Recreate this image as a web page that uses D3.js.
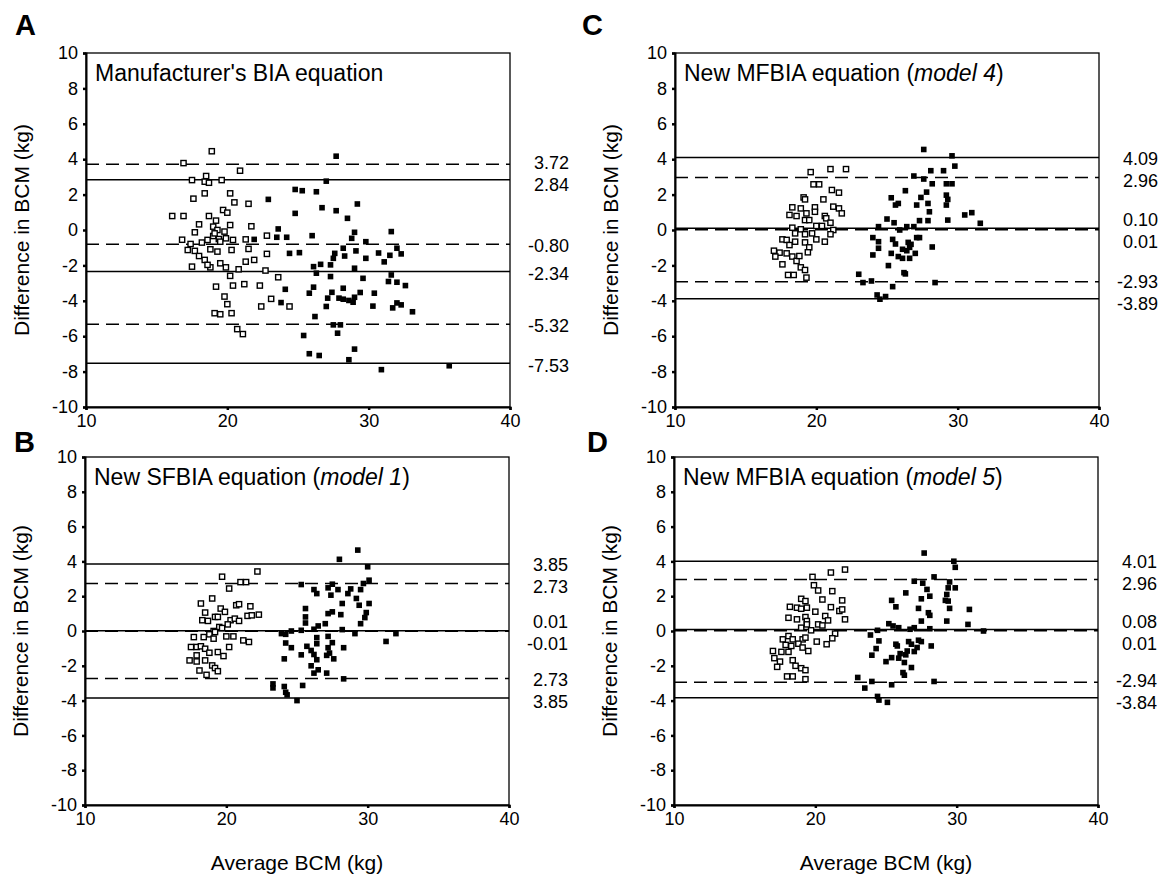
<!DOCTYPE html>
<html>
<head>
<meta charset="UTF-8">
<title>Difference in BCM vs average BCM</title>
<style>
  body { margin: 0; background: #fff; }
  svg text { font-family: "Liberation Sans", Arial, Helvetica, sans-serif; fill: #000; }
</style>
</head>
<body>
<script src="https://cdn.jsdelivr.net/npm/d3@7"></script>
<script>
// ---- data (average BCM kg, difference kg) ----
// open squares = one sex, filled squares = the other

// Panel A: Manufacturer's BIA equation
const openA = [[18.9,4.45],[16.9,3.78],[20.9,3.35],[17.5,2.82],[18.5,3.05],[18.4,2.73],[18.7,2.67],[19.6,2.82],
  [18.4,2.07],[20.2,2.07],[17.6,1.77],[20.5,1.56],[21.5,1.48],[19.7,1.13],[20.0,0.98],[16.1,0.79],[16.9,0.79],
  [18.7,0.79],[19.2,0.53],[20.2,0.28],[21.7,0.21],[18.0,0.32],[19.0,0.19],[17.7,-0.13],[19.3,0.0],[19.8,-0.09],
  [16.8,-0.55],[17.4,-0.79],[18.2,-0.71],[18.6,-0.56],[19.0,-0.34],[19.4,-0.51],[19.9,-0.47],[20.4,-0.56],
  [21.3,-0.53],[17.2,-1.13],[17.7,-1.18],[18.0,-1.47],[18.4,-1.69],[18.8,-1.09],[19.3,-1.22],[20.3,-1.13],
  [21.5,-1.07],[22.8,-0.32],[22.8,-1.35],[21.9,-1.69],[21.3,-1.79],[17.5,-2.07],[18.8,-2.11],[19.5,-1.88],
  [19.9,-2.11],[20.8,-2.22],[20.2,-2.59],[23.6,-2.67],[19.2,-3.20],[20.4,-3.14],[21.2,-3.06],[22.3,-3.14],
  [19.8,-3.76],[20.0,-4.19],[23.1,-3.89],[22.4,-4.32],[24.4,-4.32],[19.1,-4.70],[19.5,-4.76],[20.3,-4.70],
  [20.7,-5.60],[21.1,-5.88],[22.7,-2.29],[18.6,-1.97],[19.1,-0.19],[19.5,-0.66]];
const filledA = [[27.7,4.17],[27.0,2.76],[24.8,2.29],[25.3,2.22],[26.3,2.16],[22.9,1.73],[29.2,1.47],[24.8,0.94],
  [26.7,1.26],[27.7,1.09],[28.5,0.66],[23.6,0.06],[31.6,-0.09],[29.0,-0.13],[28.8,-0.47],[26.0,-0.32],
  [23.5,-0.41],[24.2,-0.41],[21.9,-0.53],[29.8,-0.66],[24.4,-1.32],[25.1,-1.28],[28.2,-1.03],[27.6,-1.32],
  [27.5,-1.60],[28.3,-1.47],[29.1,-1.18],[29.8,-1.60],[30.7,-1.30],[31.5,-1.43],[32.0,-1.03],[32.3,-1.35],
  [31.1,-1.80],[26.1,-2.07],[26.6,-1.94],[26.3,-2.44],[27.3,-1.97],[27.3,-2.63],[29.0,-2.16],[29.6,-2.73],
  [31.6,-2.54],[31.4,-2.91],[32.0,-2.95],[32.6,-3.14],[24.1,-3.35],[26.1,-3.23],[25.8,-3.57],[27.4,-3.52],
  [28.2,-3.29],[27.1,-3.85],[27.9,-3.85],[28.2,-3.91],[28.6,-3.98],[28.9,-4.08],[29.0,-3.80],[29.4,-3.53],
  [30.4,-3.57],[23.8,-4.10],[27.0,-4.32],[30.3,-4.30],[31.7,-4.40],[32.0,-4.12],[32.3,-4.23],[33.1,-4.62],
  [26.2,-4.89],[27.5,-5.36],[28.0,-5.36],[27.8,-5.83],[25.4,-5.96],[29.0,-6.73],[25.8,-6.99],[26.5,-7.09],
  [28.6,-7.33],[30.9,-7.89],[35.7,-7.67]];
const solidA = [2.84, -2.34, -7.53];
const dashedA = [3.72, -0.80, -5.32];
const labelsA = ["3.72", "2.84", "-0.80", "-2.34", "-5.32", "-7.53"];

// Panel B: New SFBIA equation (model 1)
const openB = [[22.2,3.42],[19.7,3.12],[21.0,2.81],[21.4,2.81],[20.2,2.44],[19.0,1.87],[18.2,1.58],[19.6,1.29],
  [19.9,1.10],[20.7,1.48],[20.9,1.54],[21.7,1.42],[18.5,1.06],[19.2,0.81],[19.4,0.81],[21.5,0.87],[21.8,0.90],
  [22.3,0.94],[18.3,0.62],[18.7,0.58],[20.3,0.62],[20.6,0.71],[20.9,0.58],[20.1,0.38],[19.5,0.23],[19.7,0.17],
  [19.1,0.0],[19.2,-0.06],[18.8,-0.19],[19.1,-0.44],[18.4,-0.35],[17.7,-0.35],[20.0,-0.31],[20.5,-0.31],
  [21.2,-0.54],[21.6,-0.63],[20.2,-0.92],[17.5,-0.92],[17.9,-0.92],[18.2,-0.88],[18.5,-1.02],[18.8,-1.25],
  [19.4,-1.21],[19.8,-1.44],[17.9,-1.40],[17.4,-1.69],[17.9,-1.75],[18.5,-1.69],[19.0,-1.98],[19.2,-2.13],
  [19.4,-2.31],[18.1,-2.27],[18.6,-2.52]];
const filledB = [[29.3,4.65],[28.0,4.12],[30.0,3.69],[30.1,2.92],[29.7,2.73],[25.3,2.67],[26.2,2.38],[26.4,2.15],
  [27.2,2.48],[27.5,2.69],[27.4,2.06],[27.9,2.38],[28.6,2.15],[28.8,2.42],[29.5,2.38],[29.2,1.87],[29.4,1.48],
  [30.1,1.58],[28.2,1.58],[25.6,1.29],[27.2,1.00],[27.5,1.10],[28.1,0.94],[29.9,1.06],[29.8,0.77],[29.5,0.42],
  [25.6,0.81],[25.6,0.46],[27.0,0.42],[26.5,0.29],[26.2,0.10],[28.2,0.08],[29.1,-0.15],[24.6,0.0],[23.9,-0.15],
  [24.2,-0.19],[25.3,0.04],[32.0,-0.15],[31.3,-0.60],[27.2,-0.31],[26.4,-0.38],[24.2,-0.69],[24.6,-0.96],
  [26.4,-0.73],[25.7,-0.88],[26.0,-1.12],[25.3,-1.37],[27.5,-0.67],[27.2,-0.96],[28.3,-0.96],[24.1,-1.60],
  [26.2,-1.35],[26.4,-1.65],[27.1,-1.40],[27.3,-1.27],[27.6,-1.60],[26.0,-2.00],[26.5,-2.23],[26.2,-2.42],
  [27.1,-2.42],[28.3,-2.75],[23.3,-3.04],[23.3,-3.27],[24.1,-3.19],[24.2,-3.52],[24.3,-3.67],[25.4,-3.13],
  [25.0,-4.00]];
const solidB = [3.85, 0.01, -3.85];
const dashedB = [2.73, -0.01, -2.73];
const labelsB = ["3.85", "2.73", "0.01", "-0.01", "2.73", "3.85"];

// Panel C: New MFBIA equation (model 4)
const openC = [[19.6,3.27],[21.0,3.44],[22.1,3.44],[19.8,2.58],[20.2,2.58],[21.1,2.26],[21.6,2.11],[20.5,1.73],
  [19.1,1.84],[19.2,1.73],[18.3,1.28],[18.9,1.22],[19.9,1.28],[19.9,1.03],[21.2,1.32],[21.6,1.22],[21.8,0.94],
  [20.6,0.79],[18.1,0.85],[18.6,0.79],[19.3,0.94],[19.2,0.56],[19.5,0.56],[20.7,0.66],[21.0,0.41],[20.0,0.23],
  [20.4,0.23],[18.3,0.13],[18.9,0.04],[21.2,0.0],[21.0,-0.24],[17.6,-0.53],[18.5,-0.19],[19.2,-0.24],
  [19.7,-0.19],[20.0,-0.53],[20.6,-0.66],[17.9,-0.56],[18.1,-0.85],[18.5,-0.66],[19.2,-0.70],[19.5,-0.98],
  [17.0,-1.17],[17.4,-1.28],[17.9,-1.32],[18.3,-1.50],[17.1,-1.50],[17.6,-1.94],[19.4,-1.26],[18.6,-1.75],
  [18.9,-2.11],[19.2,-2.26],[18.0,-2.54],[18.4,-2.54],[19.3,-2.69],[18.8,-1.47]];
const filledC = [[27.6,4.55],[29.6,4.19],[29.8,3.61],[28.1,3.35],[29.0,3.35],[26.9,3.05],[27.6,2.88],[28.2,2.61],
  [29.2,2.61],[29.6,2.61],[26.3,2.22],[27.8,2.14],[25.3,1.82],[25.8,1.50],[25.6,1.41],[27.4,1.84],[27.1,1.41],
  [29.2,1.97],[29.3,1.73],[29.2,1.41],[27.9,1.50],[28.0,1.03],[30.5,0.85],[31.0,0.98],[31.6,0.38],[29.3,0.56],
  [25.0,0.62],[25.5,0.41],[27.3,0.53],[27.9,0.53],[24.4,0.19],[25.9,0.0],[26.4,0.19],[26.9,0.19],[27.1,-0.43],
  [27.3,-0.43],[24.0,-0.43],[24.4,-0.66],[25.4,-0.53],[25.6,-0.79],[26.5,-0.70],[26.7,-0.81],[28.2,-0.96],
  [24.4,-1.03],[26.1,-1.09],[26.4,-1.17],[26.6,-0.98],[27.0,-1.32],[24.0,-1.41],[25.3,-1.32],[25.8,-1.50],
  [26.1,-1.60],[26.6,-1.60],[25.1,-2.01],[26.2,-2.41],[26.3,-2.48],[23.0,-2.50],[23.3,-2.97],[23.9,-2.88],
  [28.4,-2.97],[25.4,-3.20],[24.3,-3.67],[24.5,-3.91],[24.9,-3.76]];
const solidC = [4.09, 0.10, -3.89];
const dashedC = [2.96, 0.01, -2.93];
const labelsC = ["4.09", "2.96", "0.10", "0.01", "-2.93", "-3.89"];

// Panel D: New MFBIA equation (model 5)
const openD = [[22.1,3.53],[21.1,3.36],[19.8,3.11],[19.9,2.63],[20.2,2.33],[21.2,2.29],[20.5,1.81],[21.9,1.76],
  [19.0,1.85],[19.3,1.72],[18.2,1.39],[18.7,1.34],[19.0,1.28],[19.4,1.34],[20.0,1.11],[21.1,1.37],[21.7,1.15],
  [21.9,1.24],[18.1,0.76],[18.7,0.67],[19.3,0.80],[19.4,0.57],[20.7,0.86],[20.9,0.61],[22.1,0.67],[20.2,0.38],
  [20.5,0.32],[19.0,0.19],[19.4,0.38],[19.7,0.04],[21.4,-0.15],[21.2,-0.42],[20.8,-0.76],[20.1,-0.61],
  [17.7,-0.48],[18.1,-0.29],[18.4,-0.48],[19.1,-0.48],[19.3,-0.38],[17.9,-0.80],[18.3,-0.86],[18.8,-0.73],
  [19.1,-0.95],[17.0,-1.15],[17.6,-1.20],[18.1,-1.20],[19.5,-1.15],[17.1,-1.56],[17.5,-1.76],[18.4,-1.68],
  [18.6,-2.00],[19.0,-2.14],[19.3,-2.25],[17.3,-2.06],[18.0,-2.61],[18.4,-2.61],[19.3,-2.77]];
const filledD = [[27.7,4.48],[29.8,4.01],[29.9,3.66],[28.4,3.11],[27.0,2.86],[27.6,2.75],[29.5,2.82],[29.4,2.48],
  [29.9,2.48],[26.4,2.19],[27.9,2.39],[28.1,2.00],[27.5,1.85],[29.3,2.10],[29.2,1.76],[29.4,1.72],[25.4,1.76],
  [25.7,1.39],[27.3,1.30],[28.0,1.05],[28.1,0.90],[30.9,1.24],[29.5,1.30],[27.5,0.57],[29.3,0.57],[30.8,0.38],
  [25.2,0.42],[25.5,0.29],[25.9,0.19],[26.7,0.10],[27.0,0.19],[28.1,0.13],[31.9,0.0],[24.4,0.04],[23.9,-0.23],
  [24.5,-0.57],[25.7,-0.76],[25.8,-0.86],[26.6,-0.61],[26.8,-0.76],[27.3,-0.53],[27.5,-0.61],[28.2,-0.86],
  [24.3,-1.01],[27.2,-0.95],[27.0,-1.18],[26.5,-1.15],[26.4,-1.37],[26.0,-1.30],[25.9,-1.56],[24.0,-1.39],
  [25.4,-1.53],[25.0,-1.76],[26.3,-1.81],[26.8,-2.10],[26.2,-2.39],[26.3,-2.54],[23.0,-2.67],[24.0,-2.90],
  [25.4,-3.09],[23.5,-3.28],[28.4,-2.90],[24.4,-3.76],[24.5,-3.97],[25.1,-4.10]];
const solidD = [4.01, 0.08, -3.84];
const dashedD = [2.96, 0.01, -2.94];
const labelsD = ["4.01", "2.96", "0.08", "0.01", "-2.94", "-3.84"];

const xTicks = [10, 20, 30, 40];
const yTicks = [-10, -8, -6, -4, -2, 0, 2, 4, 6, 8, 10];

// ---- layout ----
const W = 1167, H = 888;
const font = '"Liberation Sans", Arial, Helvetica, sans-serif';
const svg = d3.select("body").append("svg").attr("width", W).attr("height", H);

const panels = [
  { letter: "A", title: ["Manufacturer's BIA equation"], left: 86, top: 53, w: 424, h: 354,
    open: openA, filled: filledA, solid: solidA, dashed: dashedA, labels: labelsA, lx: 15, ly: 35, bottom: false },
  { letter: "C", title: ["New MFBIA equation (", "model 4", ")"], left: 675, top: 53, w: 424, h: 354,
    open: openC, filled: filledC, solid: solidC, dashed: dashedC, labels: labelsC, lx: 582, ly: 35, bottom: false },
  { letter: "B", title: ["New SFBIA equation (", "model 1", ")"], left: 85, top: 457, w: 424, h: 348,
    open: openB, filled: filledB, solid: solidB, dashed: dashedB, labels: labelsB, lx: 14, ly: 452, bottom: true },
  { letter: "D", title: ["New MFBIA equation (", "model 5", ")"], left: 674, top: 457, w: 424, h: 348,
    open: openD, filled: filledD, solid: solidD, dashed: dashedD, labels: labelsD, lx: 587, ly: 452, bottom: true }
];

panels.forEach(p => {
  const x = d3.scaleLinear().domain([10, 40]).range([0, p.w]);
  const y = d3.scaleLinear().domain([-10, 10]).range([p.h, 0]);
  const g = svg.append("g").attr("transform", `translate(${p.left},${p.top})`);

  // panel letter
  svg.append("text").attr("x", p.lx).attr("y", p.ly)
    .attr("font-size", 29).attr("font-weight", "bold").text(p.letter);

  // frame
  g.append("rect").attr("width", p.w).attr("height", p.h)
    .attr("fill", "none").attr("stroke", "#000").attr("stroke-width", 1.3);

  // limits of agreement lines
  g.selectAll(".solid").data(p.solid).join("line")
    .attr("x1", 0).attr("x2", p.w).attr("y1", d => y(d)).attr("y2", d => y(d))
    .attr("stroke", "#000").attr("stroke-width", 1.5);
  g.selectAll(".dashed").data(p.dashed).join("line")
    .attr("x1", 0).attr("x2", p.w).attr("y1", d => y(d)).attr("y2", d => y(d))
    .attr("stroke", "#000").attr("stroke-width", 1.5).attr("stroke-dasharray", "13,7");

  // points
  g.selectAll(".open").data(p.open).join("rect")
    .attr("x", d => x(d[0]) - 2.6).attr("y", d => y(d[1]) - 2.6)
    .attr("width", 5.2).attr("height", 5.2)
    .attr("fill", "#fff").attr("stroke", "#000").attr("stroke-width", 1.4);
  g.selectAll(".filled").data(p.filled).join("rect")
    .attr("x", d => x(d[0]) - 2.8).attr("y", d => y(d[1]) - 2.8)
    .attr("width", 5.6).attr("height", 5.6).attr("fill", "#000");

  // axes (plain hyphen minus like the original)
  const ya = g.append("g").call(d3.axisLeft(y).tickValues(yTicks).tickSize(3).tickPadding(5)
    .tickFormat(d => String(d)));
  const xa = g.append("g").attr("transform", `translate(0,${p.h})`)
    .call(d3.axisBottom(x).tickValues(xTicks).tickSize(3).tickPadding(4).tickFormat(d => String(d)));
  [ya, xa].forEach(a => {
    a.select(".domain").attr("stroke-width", 2);
    a.selectAll(".tick line").attr("stroke-width", 2.5);
    a.selectAll("text").attr("font-family", font).attr("font-size", 18).attr("fill", "#000");
  });

  // panel title
  const t = g.append("text").attr("x", 9).attr("y", 28).attr("font-size", 23);
  p.title.forEach((s, i) => t.append("tspan").text(s).attr("font-style", i === 1 ? "italic" : "normal"));

  // axis titles
  g.append("text").attr("transform", `translate(-57,${p.h / 2}) rotate(-90)`)
    .attr("text-anchor", "middle").attr("font-size", 21).text("Difference in BCM (kg)");
  if (p.bottom) {
    svg.append("text").attr("x", p.left + p.w / 2).attr("y", 870)
      .attr("text-anchor", "middle").attr("font-size", 21).text("Average BCM (kg)");
  }

  // value labels on the right, spread apart in pairs so they don't collide
  const vals = [p.dashed[0], p.solid[0], p.dashed[1], p.solid[1], p.dashed[2], p.solid[2]];
  const ordered = vals.map((v, i) => ({ v, i })).sort((a, b) => b.v - a.v);
  const pos = ordered.map(o => y(o.v));
  const gap = 22;
  for (let k = 0; k < 4; k++) {
    for (let i = 1; i < pos.length; i++) {
      if (pos[i] - pos[i - 1] < gap) {
        const mid = (pos[i] + pos[i - 1]) / 2;
        pos[i - 1] = mid - gap / 2;
        pos[i] = mid + gap / 2;
      }
    }
  }
  g.selectAll(".val").data(p.labels).join("text")
    .attr("x", p.w + 59).attr("y", (d, i) => pos[i] + 2)
    .attr("dy", "0.35em").attr("text-anchor", "end").attr("font-size", 18).text(d => d);
});
</script>
</body>
</html>
